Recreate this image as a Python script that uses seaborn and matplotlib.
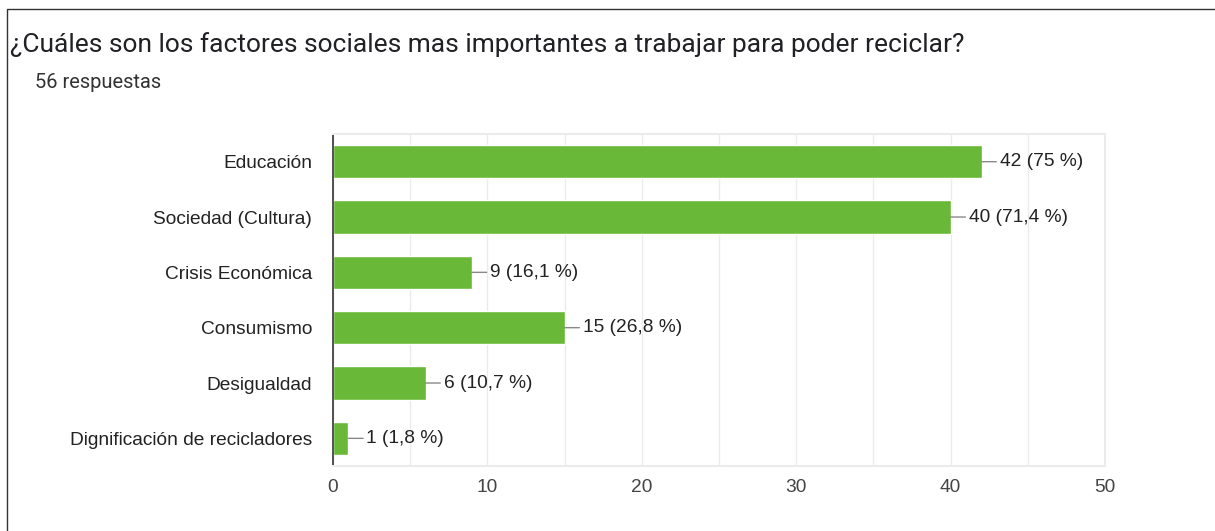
import matplotlib
matplotlib.use("Agg")
import matplotlib.pyplot as plt
import seaborn as sns
import pandas as pd

# Data
categories = ["Educación", "Sociedad (Cultura)", "Crisis Económica",
              "Consumismo", "Desigualdad", "Dignificación de recicladores"]
counts = [42, 40, 9, 15, 6, 1]
percents = ["75", "71,4", "16,1", "26,8", "10,7", "1,8"]
total = 56

title = "¿Cuáles son los factores sociales mas importantes a trabajar para poder reciclar?"
subtitle = f"{total} respuestas"

df = pd.DataFrame({"factor": categories, "n": counts})

sns.set_theme(style="white")
plt.rcParams["font.family"] = ["Liberation Sans", "DejaVu Sans"]

fig = plt.figure(figsize=(12.15, 5.31), dpi=100)
ax = fig.add_axes([0.274, 0.1224, 0.6355, 0.6252])

sns.barplot(data=df, x="n", y="factor", orient="h", color="#6ab837",
            width=0.6, saturation=1, ax=ax)

ax.set_xlim(0, 50)
ax.set_ylim(5.5, -0.5)
ax.set_xticks(range(0, 51, 10))
ax.set_xticks(range(0, 51, 5), minor=True)
ax.grid(axis="x", which="both", color="#ebebeb", linewidth=1)
ax.set_axisbelow(True)
ax.set_xlabel("")
ax.set_ylabel("")
ax.tick_params(axis="both", which="both", length=0, labelsize=13.8, colors="#222222")
ax.tick_params(axis="x", pad=9, colors="#444444")
ax.tick_params(axis="y", pad=15)

for side in ["top", "right", "bottom"]:
    ax.spines[side].set_color("#ebebeb")
    ax.spines[side].set_linewidth(1.5)
ax.spines["left"].set_color("#333333")
ax.spines["left"].set_linewidth(1.2)

for i, (n, p) in enumerate(zip(counts, percents)):
    ax.annotate(f"{n} ({p} %)", xy=(n, i), xytext=(13, 0),
                textcoords="offset points", ha="left", va="center",
                fontsize=13.8, color="#222222",
                arrowprops=dict(arrowstyle="-", color="#888888", lw=1,
                                shrinkA=0, shrinkB=0))

fig.text(10 / 1215, 1 - 45 / 531, title, fontsize=19, color="#202124",
         va="center", ha="left", family=["Roboto", "DejaVu Sans"])
fig.text(35 / 1215, 1 - 83 / 531, subtitle, fontsize=14.5, color="#333333",
         va="center", ha="left", family=["Roboto", "DejaVu Sans"])

# card border (left and top edges visible)
fig.add_artist(plt.Line2D([7 / 1215, 7 / 1215, 1.0], [0.0, 1 - 9 / 531, 1 - 9 / 531],
                          transform=fig.transFigure, color="#333333", linewidth=1))

fig.savefig("out.png", dpi=100, facecolor="white")
